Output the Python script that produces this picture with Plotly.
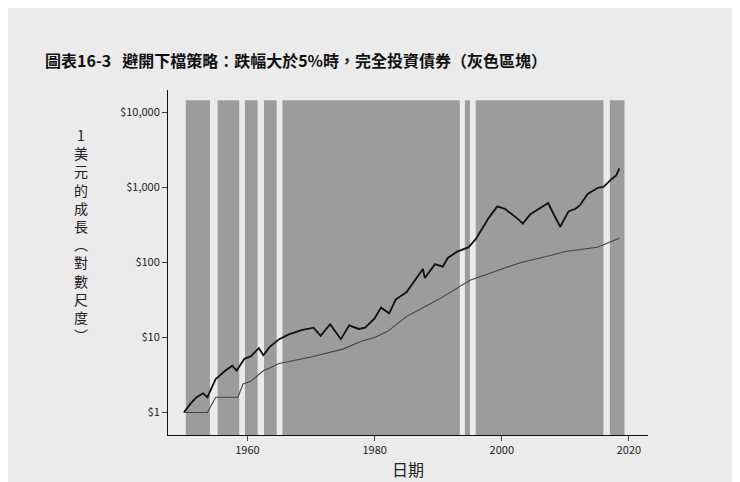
import plotly.graph_objects as go

# gray regions: fully in bonds (year start, year end)
band_start = [1950.3, 1955.3, 1959.6, 1962.6, 1965.5, 1994.2, 1995.9, 2017.0]
band_end = [1954.1, 1958.7, 1961.6, 1964.6, 1993.4, 1995.0, 2016.0, 2019.3]

hold_year = [1950, 1951, 1952, 1953, 1953.7, 1955, 1956.5, 1957.6, 1958.3, 1959.5, 1960.5, 1961.8,
             1962.5, 1963.5, 1965, 1966.5, 1968.5, 1970.4, 1971.5, 1973, 1974.7, 1976, 1977.5,
             1978.5, 1980, 1981, 1982.3, 1983.3, 1985, 1986.5, 1987.6, 1987.9, 1989.5, 1990.7,
             1991.5, 1993, 1994.8, 1996, 1998, 1999.3, 2000.5, 2002.7, 2003.3, 2004.5, 2007.3,
             2008.1, 2009.2, 2010.5, 2011.6, 2012.3, 2013.5, 2015.2, 2016, 2017.3, 2018, 2018.5]
hold_val = [1, 1.3, 1.6, 1.8, 1.6, 2.8, 3.6, 4.2, 3.6, 5.2, 5.6, 7.2, 5.8, 7.5, 9.5, 11, 12.5, 13.5,
            10.5, 15, 9.5, 14.5, 13, 13.5, 18, 25, 21, 32, 40, 60, 82, 62, 95, 88, 115, 140, 160,
            210, 400, 560, 520, 370, 330, 440, 620, 450, 300, 480, 520, 580, 820, 1000, 1020,
            1300, 1450, 1800]

avoid_year = [1950, 1953.7, 1955, 1958.5, 1959.3, 1960.5, 1962.5, 1965, 1970, 1975, 1978, 1980,
              1982, 1985, 1990, 1993, 1995, 2000, 2003, 2007, 2010, 2015, 2016.5, 2018.5]
avoid_val = [1, 1, 1.6, 1.6, 2.4, 2.6, 3.6, 4.5, 5.5, 7, 9, 10, 12, 19, 32, 45, 58, 82, 100, 120,
             140, 160, 180, 210]

fig = go.Figure()
for s, e in zip(band_start, band_end):
    fig.add_vrect(x0=s, x1=e, y0=0, y1=0.97, fillcolor="#9c9c9c", opacity=1, line_width=0, layer="below")

fig.add_trace(go.Scatter(x=hold_year, y=hold_val, mode="lines",
                         line=dict(color="#111111", width=1.8)))
fig.add_trace(go.Scatter(x=avoid_year, y=avoid_val, mode="lines",
                         line=dict(color="#444444", width=1.1)))

fig.add_annotation(x=2003, y=1900, text="買進持有", showarrow=False,
                   font=dict(size=15, color="#222222"))
fig.add_annotation(x=1999, y=16, text="避開下檔", showarrow=False,
                   font=dict(size=15, color="#444444"))

ytitle = "<br>".join(list("1美元的成長︵對數尺度︶"))
fig.add_annotation(x=-0.2, y=0.58, xref="paper", yref="paper", text=ytitle, showarrow=False,
                   font=dict(size=14, color="#222222"))

fig.update_layout(
    width=740, height=482,
    title=dict(text="<b>圖表16-3   避開下檔策略：跌幅大於5%時，完全投資債券（灰色區塊）</b>",
               x=0.05, y=0.9, font=dict(size=16, color="#111111")),
    paper_bgcolor="#ebebeb", plot_bgcolor="#ebebeb",
    margin=dict(l=160, r=100, t=82, b=55),
    showlegend=False,
    font=dict(family="Noto Sans CJK TC", color="#222222"),
    xaxis=dict(range=[1947.5, 2023], tickvals=[1960, 1980, 2000, 2020], showgrid=False,
               zeroline=False, showline=True, linecolor="#111111", ticks="outside",
               tickfont=dict(size=11), title=dict(text="日期", font=dict(size=16), standoff=8)),
    yaxis=dict(type="log", range=[-0.3, 4.3], tickvals=[1, 10, 100, 1000, 10000],
               ticktext=["$1", "$10", "$100", "$1,000", "$10,000"], showgrid=False,
               zeroline=False, showline=True, linecolor="#111111", ticks="outside",
               tickfont=dict(size=11)),
)

fig.write_html("out.html")
